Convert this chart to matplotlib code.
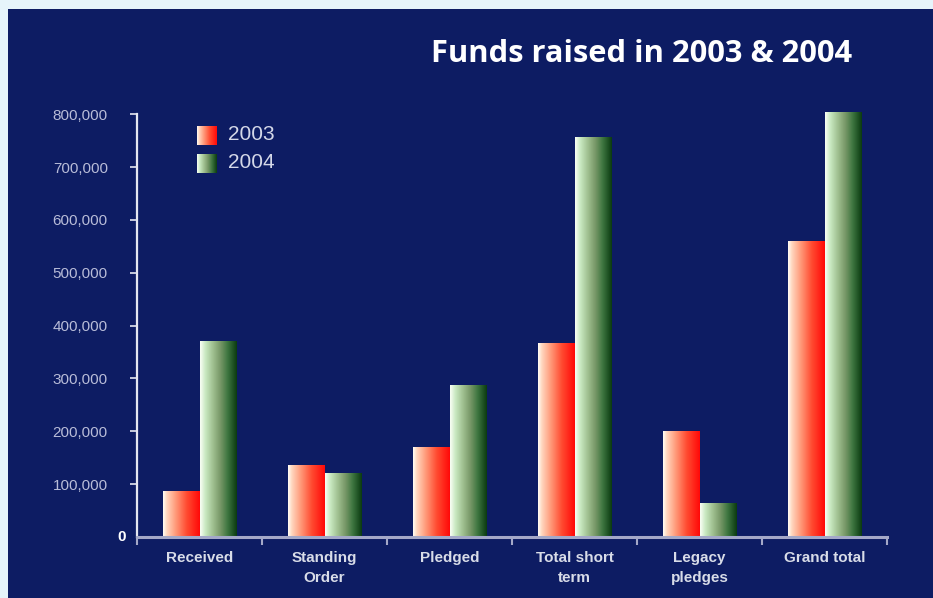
import numpy as np
import matplotlib
matplotlib.use("Agg")
import matplotlib.pyplot as plt
from matplotlib.patches import Rectangle
from matplotlib.colors import LinearSegmentedColormap
from matplotlib.ticker import FuncFormatter

# ---- data ----
categories = ["Received", "Standing\nOrder", "Pledged", "Total short\nterm", "Legacy\npledges", "Grand total"]
values_2003 = [88000, 137000, 171000, 367000, 200000, 560000]
values_2004 = [370000, 122000, 287000, 757000, 64000, 805000]
series_labels = ["2003", "2004"]
title = "Funds raised in 2003 & 2004"
y_ticks = [100000, 200000, 300000, 400000, 500000, 600000, 700000, 800000]

W, H = 933, 598
fig = plt.figure(figsize=(W / 100, H / 100), dpi=100)
fig.patch.set_facecolor("#E6F4FA")
fig.patches.append(Rectangle((8 / W, 0), 1, (H - 9) / H, transform=fig.transFigure,
                             facecolor="#0D1C63", edgecolor="none", zorder=-5))

red_cmap = LinearSegmentedColormap.from_list(
    "redgrad", [(0, "#FFFFF8"), (0.1, "#FFD8C0"), (0.35, "#FF9878"), (0.65, "#FF4A30"), (1, "#FF0808")])
green_cmap = LinearSegmentedColormap.from_list(
    "greengrad", [(0, "#FAFFF6"), (0.15, "#C8E8C0"), (0.35, "#A0C090"), (0.55, "#789868"),
                  (0.75, "#3E7640"), (1, "#0A3A10")])

bottom_px, top_val = 537, 820000
px_per_100k = 52.84
ax_bottom = (H - bottom_px) / H
ax_height = (top_val / 100000 * px_per_100k) / H
ax = fig.add_axes([137 / W, ax_bottom, 750 / W, ax_height])
ax.set_facecolor("none")

x = np.arange(len(categories))
bw = 0.29
grad = np.linspace(0, 1, 256).reshape(1, -1)

bars03 = ax.bar(x - bw / 2, values_2003, bw, facecolor="none", edgecolor="none")
bars04 = ax.bar(x + bw / 2, values_2004, bw, facecolor="none", edgecolor="none")
for bars, cmap in ((bars03, red_cmap), (bars04, green_cmap)):
    for p in bars:
        x0, y0, w, h = p.get_x(), p.get_y(), p.get_width(), p.get_height()
        im = ax.imshow(grad, cmap=cmap, extent=[x0, x0 + w, y0, y0 + h], aspect="auto",
                       interpolation="bicubic", zorder=2)
        im.set_clip_path(p)

ax.set_xlim(-0.5, len(categories) - 0.5)
ax.set_ylim(0, top_val)

for s in ("top", "right"):
    ax.spines[s].set_visible(False)
ax.spines["left"].set_color("#E4E6F0")
ax.spines["left"].set_linewidth(1.6)
ax.spines["left"].set_bounds(0, 800000)
ax.spines["bottom"].set_color("#A4A8C8")
ax.spines["bottom"].set_linewidth(2.2)

ax.set_yticks(y_ticks)
ax.yaxis.set_major_formatter(FuncFormatter(lambda v, pos: f"{int(v):,}"))
ax.tick_params(axis="y", colors="#E4E6F0", length=5, width=1.2, pad=16,
               labelcolor="#B8BCD8", labelsize=11)
for lab in ax.get_yticklabels():
    lab.set_family("Liberation Sans")
ax.annotate("0", xy=(0, 0), xycoords=("axes fraction", "data"), xytext=(-8, 0),
            textcoords="offset points", ha="right", va="center", color="white",
            fontsize=11, fontweight="bold", family="Liberation Sans")

ax.set_xticks(np.arange(len(categories) + 1) - 0.5)
ax.set_xticklabels([])
ax.tick_params(axis="x", which="major", colors="#A4A8C8", length=6, width=1.5)
ax.set_xticks(x, minor=True)
ax.set_xticklabels(categories, minor=True, fontsize=11, fontweight="bold",
                   color="#D8DCE8", family="Liberation Sans", linespacing=1.6)
ax.tick_params(axis="x", which="minor", length=0, pad=10)

# legend
for i, (lab, cmap) in enumerate(zip(series_labels, (red_cmap, green_cmap))):
    top = 126 + i * 28
    lax = fig.add_axes([197 / W, (H - top - 19) / H, 20 / W, 19 / H])
    lax.imshow(grad, cmap=cmap, aspect="auto", interpolation="bicubic")
    lax.axis("off")
    fig.text(228 / W, (H - top - 9) / H, lab, ha="left", va="center", color="#D4D8E8",
             fontsize=15, family="Liberation Sans")

fig.text(852 / W, (H - 62) / H, title, ha="right", va="baseline", color="white",
         fontsize=22.2, fontweight="bold", family="Open Sans")

fig.savefig("out.png", dpi=100, facecolor=fig.get_facecolor())
